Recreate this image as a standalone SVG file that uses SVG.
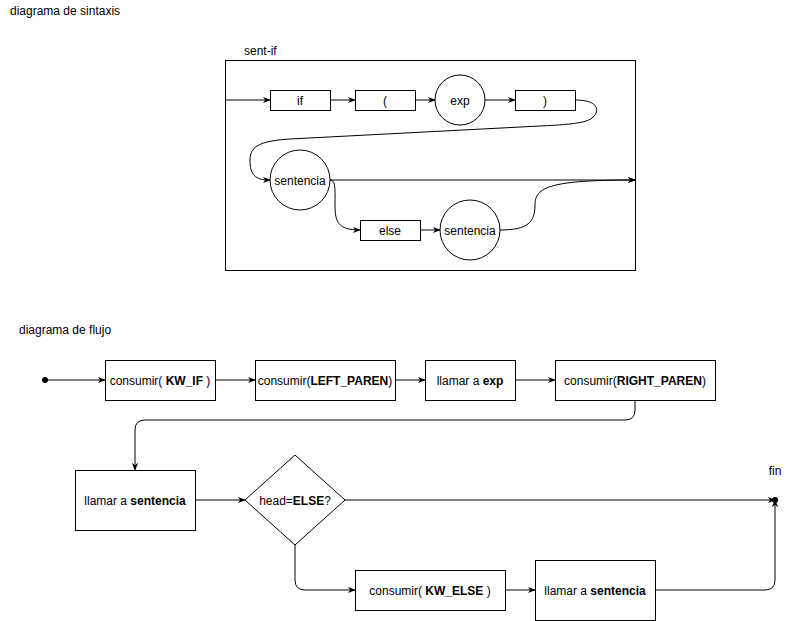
<svg xmlns="http://www.w3.org/2000/svg" width="796" height="621" viewBox="0 0 796 621">
<defs>
<marker id="arr" viewBox="0 0 10 10" refX="9" refY="5" markerWidth="8" markerHeight="8" markerUnits="userSpaceOnUse" orient="auto">
<path d="M0,1 L10,5 L0,9 L3,5 Z" fill="#000"/>
</marker>
<style>
text{font-family:"Liberation Sans",Arial,sans-serif;font-size:12px;fill:#000}
.c{text-anchor:middle;dominant-baseline:central}
.b{font-weight:bold}
.n{fill:#fff;stroke:#000;stroke-width:1}
.e{fill:none;stroke:#000;stroke-width:1;marker-end:url(#arr)}
.l{fill:none;stroke:#000;stroke-width:1}
</style>
</defs>
<rect width="796" height="621" fill="#fff"/>
<text x="10" y="15">diagrama de sintaxis</text>
<text x="244" y="55">sent-if</text>
<rect id="frame" x="225.5" y="60.5" width="410" height="210" fill="none" stroke="#000"/>
<g id="connectors">
<path class="e" d="M225,100 L270,100"/>
<path class="e" d="M330,100 L355,100"/>
<path class="e" d="M415,100 L435,100"/>
<path class="e" d="M485,100 L515,100"/>
<path class="e" d="M575,100 C600,100 600,112 592,118 C585,124 560,125 540,126 L290,139 C262,141 250,145 250,160 C250,175 255,180 270,180"/>
<path class="e" d="M330,180 L635,180"/>
<path class="e" d="M330,180 C336,180 335,190 335,205 C335,222 338,230 360,230"/>
<path class="e" d="M420,230 L440,230"/>
<path class="e" d="M500,230 C528,230 535,222 535,205 C535,187 550,180 635,180"/>
<circle cx="45" cy="380" r="3" fill="#000"/>
<path class="e" d="M45,380 L105,380"/>
<path class="e" d="M215,380 L255,380"/>
<path class="e" d="M395,380 L425,380"/>
<path class="e" d="M515,380 L555,380"/>
<path class="e" d="M635,400 L635,410 Q635,420 625,420 L145,420 Q135,420 135,430 L135,470"/>
<path class="e" d="M195,500 L245,500"/>
<path class="e" d="M345,500 L775,500"/>
<path class="e" d="M295,545 L295,580 Q295,590 305,590 L355,590"/>
<path class="e" d="M505,590 L535,590"/>
<path class="e" d="M655,590 L765,590 Q775,590 775,580 L775,500"/>
<circle cx="775" cy="500" r="3" fill="#000"/>
</g>
<g id="n-if"><rect class="n" x="270.5" y="90.5" width="60" height="20"/><text class="c" x="300" y="101">if</text></g>
<g id="n-lp"><rect class="n" x="355.5" y="90.5" width="60" height="20"/><text class="c" x="385" y="101">(</text></g>
<g id="n-exp"><circle class="n" cx="460" cy="100" r="25"/><text class="c" x="460" y="101">exp</text></g>
<g id="n-rp"><rect class="n" x="515.5" y="90.5" width="60" height="20"/><text class="c" x="545" y="101">)</text></g>
<g id="n-sent1"><circle class="n" cx="300" cy="180" r="30"/><text class="c" x="300" y="181">sentencia</text></g>
<g id="n-else"><rect class="n" x="360.5" y="220.5" width="60" height="20"/><text class="c" x="390" y="231">else</text></g>
<g id="n-sent2"><circle class="n" cx="470" cy="230" r="30"/><text class="c" x="470" y="231">sentencia</text></g>
<text x="19" y="334">diagrama de flujo</text>
<g id="f-kwif"><rect class="n" x="105.5" y="360.5" width="110" height="40"/><text class="c" x="160" y="381">consumir( <tspan class="b">KW_IF</tspan> )</text></g>
<g id="f-lp"><rect class="n" x="255.5" y="360.5" width="140" height="40"/><text class="c" x="325" y="381">consumir(<tspan class="b">LEFT_PAREN</tspan>)</text></g>
<g id="f-exp"><rect class="n" x="425.5" y="360.5" width="90" height="40"/><text class="c" x="470" y="381">llamar a <tspan class="b">exp</tspan></text></g>
<g id="f-rp"><rect class="n" x="555.5" y="360.5" width="160" height="40"/><text class="c" x="635" y="381">consumir(<tspan class="b">RIGHT_PAREN</tspan>)</text></g>
<g id="f-sent1"><rect class="n" x="75.5" y="470.5" width="120" height="60"/><text class="c" x="135" y="501">llamar a <tspan class="b">sentencia</tspan></text></g>
<g id="f-dec"><path class="n" d="M295,455 L345,500 L295,545 L245,500 Z"/><text class="c" x="295" y="501">head=<tspan class="b">ELSE</tspan>?</text></g>
<g id="f-kwelse"><rect class="n" x="355.5" y="570.5" width="150" height="40"/><text class="c" x="430" y="591">consumir( <tspan class="b">KW_ELSE</tspan> )</text></g>
<g id="f-sent2"><rect class="n" x="535.5" y="560.5" width="120" height="60"/><text class="c" x="595" y="591">llamar a <tspan class="b">sentencia</tspan></text></g>
<g id="f-fin"><text class="c" x="775" y="471">fin</text></g>
</svg>
